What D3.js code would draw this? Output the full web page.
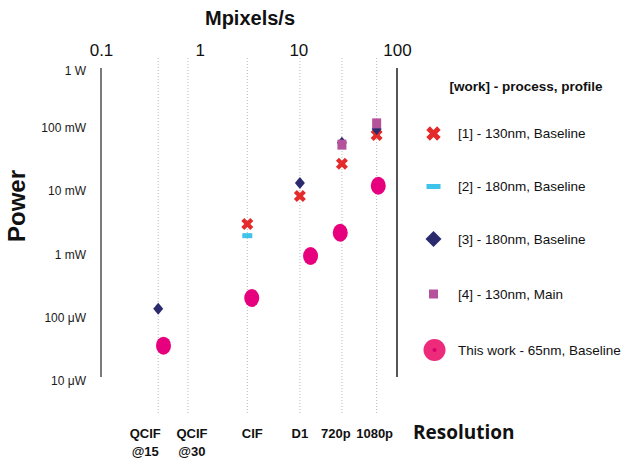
<!DOCTYPE html>
<html>
<head>
<meta charset="utf-8">
<script src="https://cdn.jsdelivr.net/npm/d3@7"></script>
<style>
  html, body { margin: 0; padding: 0; background: #fff; }
  svg { display: block; font-family: "Liberation Sans", Arial, sans-serif; }
</style>
</head>
<body>
<svg id="chart" width="627" height="461"></svg>
<script>
// ---- data ----
const topTicks = [0.1, 1, 10, 100];
const topTickLabels = ["0.1", "1", "10", "100"];
const powerTicks = [1, 0.1, 0.01, 1e-3, 1e-4, 1e-5];
const powerTickLabels = ["1 W", "100 mW", "10 mW", "1 mW", "100 \u03bcW", "10 \u03bcW"];
const resolutionNames = ["QCIF|@15", "QCIF|@30", "CIF", "D1", "720p", "1080p"];
const resolutionMpix = [0.38, 0.76, 3.04, 10.37, 27.65, 62.2];

const ref1Mpix = [3.04, 10.37, 27.65, 62.2];
const ref1Power = [3.0e-3, 8.3e-3, 27e-3, 77e-3];
const ref2Mpix = [3.04];
const ref2Power = [1.97e-3];
const ref3Mpix = [0.38, 10.37, 27.65, 62.2];
const ref3Power = [138e-6, 13.4e-3, 58e-3, 95e-3];
const ref4Mpix = [27.65, 62.2];
const ref4Power = [54e-3, 117e-3];
const thisMpix = [0.43, 3.37, 13.3, 26.6, 64.6];
const thisPower = [36e-6, 204e-6, 0.94e-3, 2.19e-3, 12.1e-3];

const legendTitle = "[work] - process, profile";
const legendLabels = ["[1] - 130nm, Baseline", "[2] - 180nm, Baseline", "[3] - 180nm, Baseline", "[4] - 130nm, Main", "This work - 65nm, Baseline"];

// ---- layout ----
const resLabelDx = [-13, 4, 5, 0, -6, -2];
const svg = d3.select("#chart");
const x = d3.scaleLog().domain([0.1, 100]).range([101, 397]);
const y = d3.scaleLog().domain([1e-5, 1]).range([380.9, 64.4]);

const col = { x: "#e42a2b", rect: "#3fc3ea", dia: "#2b2a6c", sq: "#b5529c", circ: "#e6007e" };

// gridlines
svg.append("g").selectAll("line").data(resolutionMpix).join("line")
  .attr("x1", d => x(d)).attr("x2", d => x(d))
  .attr("y1", 58).attr("y2", 415)
  .attr("stroke", "#b8b8b8").attr("stroke-width", 1).attr("stroke-dasharray", "1,2");

// axis lines
svg.append("line").attr("x1", x(0.1)).attr("x2", x(0.1)).attr("y1", 68).attr("y2", 377)
  .attr("stroke", "#222").attr("stroke-width", 1.2);
svg.append("line").attr("x1", x(100)).attr("x2", x(100)).attr("y1", 68).attr("y2", 377)
  .attr("stroke", "#444").attr("stroke-width", 1.8);

// top axis
const topAxis = svg.append("g").attr("transform", "translate(0,59)")
  .call(d3.axisTop(x).tickValues(topTicks).tickSize(0).tickPadding(3)
    .tickFormat((d, i) => topTickLabels[i]));
topAxis.select(".domain").remove();
topAxis.selectAll("text").attr("font-size", 17).attr("fill", "#111")
  .attr("font-family", "Liberation Sans, Arial, sans-serif");

svg.append("text").attr("x", 250).attr("y", 25).attr("text-anchor", "middle")
  .attr("font-size", 20).attr("font-weight", "bold").attr("fill", "#111").text("Mpixels/s");

// left axis
const leftAxis = svg.append("g").attr("transform", "translate(101,0)")
  .call(d3.axisLeft(y).tickValues(powerTicks).tickSize(0).tickPadding(15)
    .tickFormat((d, i) => powerTickLabels[i]));
leftAxis.select(".domain").remove();
leftAxis.selectAll("text").attr("font-size", 12).attr("fill", "#1a1a1a")
  .attr("font-family", "Liberation Sans, Arial, sans-serif")
  .attr("dy", (d, i) => i === 0 ? "0.85em" : "0.32em");

svg.append("text").attr("transform", "translate(25,206) rotate(-90)").attr("text-anchor", "middle")
  .attr("font-size", 24).attr("font-weight", "bold").attr("fill", "#111").text("Power");

// resolution labels
const resG = svg.append("g");
resolutionNames.forEach((name, i) => {
  const parts = name.split("|");
  const t = resG.append("text").attr("text-anchor", "middle")
    .attr("font-size", 13).attr("font-weight", "bold").attr("fill", "#111")
    .attr("x", x(resolutionMpix[i]) + resLabelDx[i]).attr("y", 438);
  parts.forEach((p, j) => {
    t.append("tspan").attr("x", x(resolutionMpix[i]) + resLabelDx[i]).attr("dy", j === 0 ? 0 : 18).text(p);
  });
});
svg.append("text").attr("x", 413).attr("y", 439).attr("font-family", "Open Sans, sans-serif")
  .attr("font-size", 19).attr("font-weight", "bold").attr("fill", "#111").text("Resolution");

// markers
const xSym = d3.symbol().type(d3.symbolCross);
const diamondPath = (w, h) => `M0,${-h}L${w},0L0,${h}L${-w},0Z`;

const zip = (a, b) => a.map((v, i) => [v, b[i]]);

svg.append("g").selectAll("path").data(zip(ref1Mpix, ref1Power)).join("path")
  .attr("d", xSym.size(90)())
  .attr("transform", d => `translate(${x(d[0])},${y(d[1])}) rotate(45)`)
  .attr("fill", col.x);

svg.append("g").selectAll("rect").data(zip(ref2Mpix, ref2Power)).join("rect")
  .attr("x", d => x(d[0]) - 5).attr("y", d => y(d[1]) - 2.5)
  .attr("width", 10).attr("height", 5).attr("fill", col.rect);

svg.append("g").selectAll("path").data(zip(ref3Mpix, ref3Power)).join("path")
  .attr("d", diamondPath(5, 6))
  .attr("transform", d => `translate(${x(d[0])},${y(d[1])})`)
  .attr("fill", col.dia);

svg.append("g").selectAll("rect").data(zip(ref4Mpix, ref4Power)).join("rect")
  .attr("x", d => x(d[0]) - 4.5).attr("y", d => y(d[1]) - 5)
  .attr("width", 9).attr("height", 10).attr("fill", col.sq);

svg.append("g").selectAll("ellipse").data(zip(thisMpix, thisPower)).join("ellipse")
  .attr("cx", d => x(d[0])).attr("cy", d => y(d[1]))
  .attr("rx", 7.5).attr("ry", 9).attr("fill", col.circ);

// legend
const lg = svg.append("g");
lg.append("text").attr("x", 526).attr("y", 91).attr("text-anchor", "middle")
  .attr("font-size", 13.5).attr("font-weight", "bold").attr("fill", "#111").text(legendTitle);
const legendY = [133.5, 186.5, 239, 294, 350];
legendLabels.forEach((lab, i) => {
  lg.append("text").attr("x", 458).attr("y", legendY[i]).attr("dy", "0.35em")
    .attr("font-size", 13.5).attr("fill", "#111").text(lab);
});
const lx = 433.5;
lg.append("path").attr("d", xSym.size(130)())
  .attr("transform", `translate(${lx},${legendY[0]}) rotate(45)`).attr("fill", col.x);
lg.append("rect").attr("x", lx - 7).attr("y", legendY[1] - 2.5).attr("width", 14).attr("height", 5).attr("fill", col.rect);
lg.append("path").attr("d", diamondPath(8, 8)).attr("transform", `translate(${lx},${legendY[2]})`).attr("fill", col.dia);
lg.append("rect").attr("x", lx - 4.5).attr("y", legendY[3] - 4.5).attr("width", 9).attr("height", 9).attr("fill", col.sq);
lg.append("circle").attr("cx", lx + 1).attr("cy", legendY[4]).attr("r", 11).attr("fill", "#ee2a7b");
lg.append("circle").attr("cx", lx + 1).attr("cy", legendY[4]).attr("r", 2).attr("fill", "#d6006c");
</script>
</body>
</html>
